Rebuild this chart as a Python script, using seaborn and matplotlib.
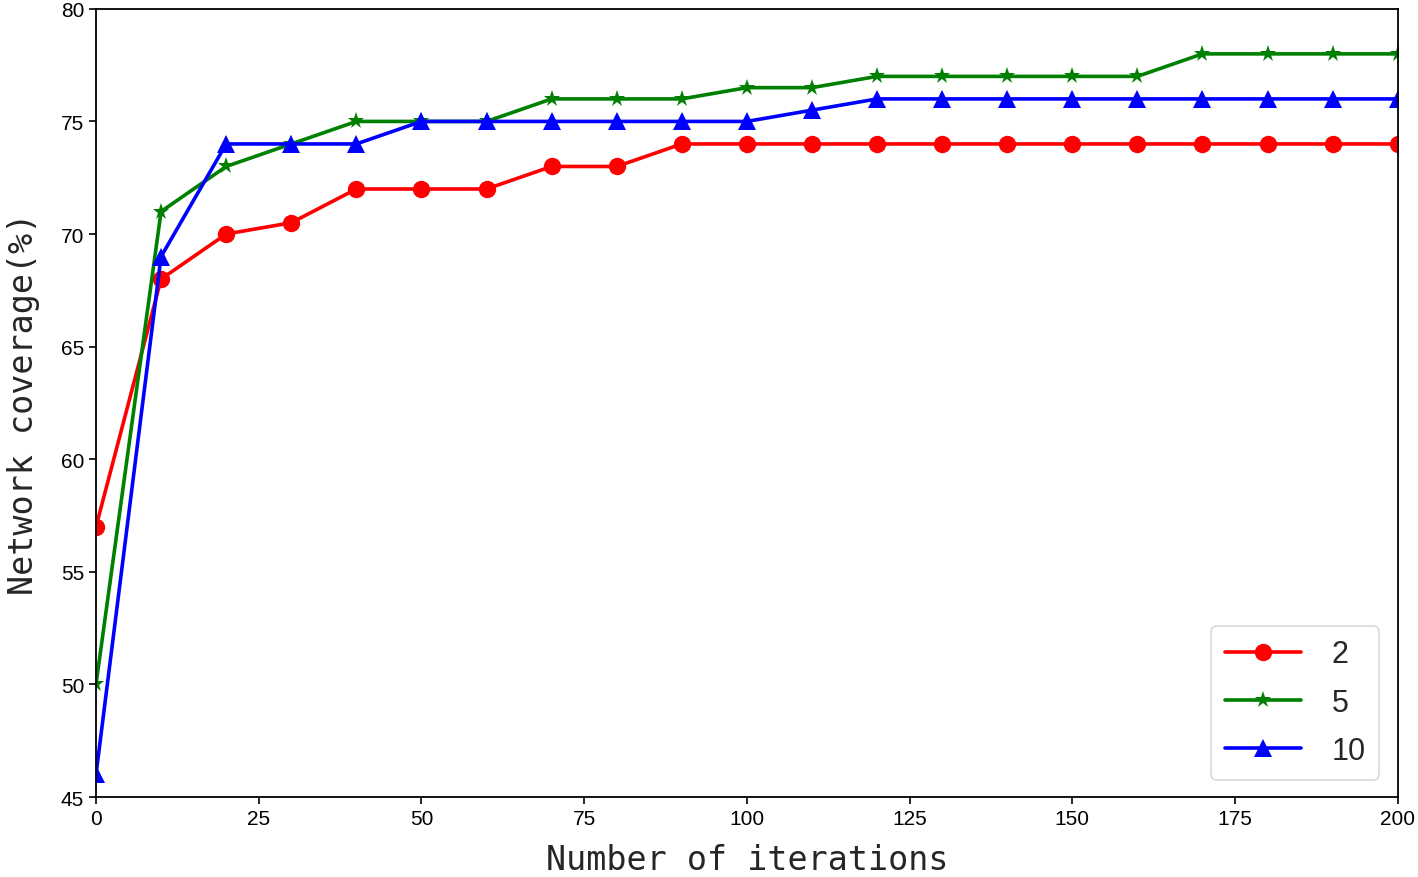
import numpy as np
import pandas as pd
import seaborn as sns
import matplotlib.pyplot as plt

# iterations and coverage values
iterations = list(range(0, 201, 10))
cov_2 = [57, 68, 70, 70.5, 72, 72, 72, 73, 73, 74, 74, 74, 74, 74, 74, 74, 74, 74, 74, 74, 74]
cov_5 = [50, 71, 73, 74, 75, 75, 75, 76, 76, 76, 76.5, 76.5, 77, 77, 77, 77, 77, 78, 78, 78, 78]
cov_10 = [46, 69, 74, 74, 74, 75, 75, 75, 75, 75, 75, 75.5, 76, 76, 76, 76, 76, 76, 76, 76, 76]
series_labels = ["2", "5", "10"]

df = pd.DataFrame({
    "iter": iterations * 3,
    "coverage": cov_2 + cov_5 + cov_10,
    "k": [series_labels[0]] * 21 + [series_labels[1]] * 21 + [series_labels[2]] * 21,
})

sns.set_style("ticks")
plt.rcParams["font.family"] = ["Liberation Sans", "DejaVu Sans"]

fig = plt.figure(figsize=(14.18, 8.78), dpi=100)
ax = fig.add_axes([0.0677, 0.0911, 0.918, 0.8977])

sns.lineplot(data=df, x="iter", y="coverage", hue="k", style="k",
             hue_order=series_labels, style_order=series_labels,
             palette={"2": "red", "5": "green", "10": "blue"},
             markers={"2": "o", "5": "*", "10": "^"},
             dashes=False, linewidth=2.6, markersize=12.5,
             markeredgewidth=0, ax=ax)

ax.set_xlim(0, 200)
ax.set_ylim(45, 80)
ax.set_xticks(np.arange(0, 201, 25))
ax.set_yticks(np.arange(45, 81, 5))
ax.tick_params(labelsize=15, direction="out", length=5, width=1.2, colors="black")
for s in ax.spines.values():
    s.set_linewidth(1.3)
    s.set_color("black")

ax.set_xlabel("Number of iterations", fontsize=24, family="DejaVu Sans Mono", labelpad=11)
ax.set_ylabel("Network coverage(%)", fontsize=24, family="DejaVu Sans Mono", labelpad=15)

leg = ax.legend(loc="lower right", fontsize=22, frameon=True, borderpad=0.45,
                handlelength=2.5, handletextpad=1.0, labelspacing=0.6,
                borderaxespad=0, bbox_to_anchor=(0.986, 0.022))
leg.get_frame().set_edgecolor("#d0d0d0")
leg.get_frame().set_linewidth(1.2)

fig.savefig("out.png", dpi=100)
